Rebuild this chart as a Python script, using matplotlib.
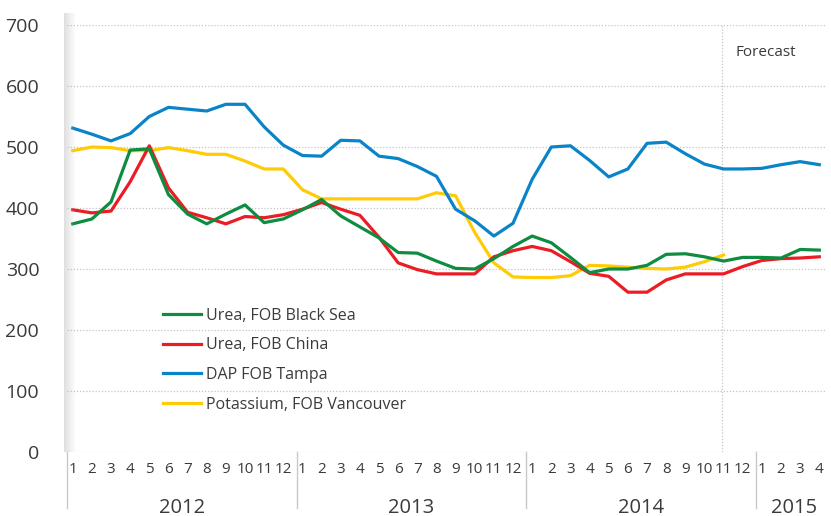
import matplotlib.pyplot as plt
import matplotlib.transforms as mtransforms
import numpy as np

# monthly prices, USD/t, Jan 2012 - Apr 2015
years = ['2012', '2013', '2014', '2015']
months_per_year = [12, 12, 12, 4]
month_labels = [str(m) for n in months_per_year for m in range(1, n + 1)]

urea_black_sea = [374, 382, 410, 495, 497, 422, 390, 374, 390, 405,
                  376, 382, 397, 414, 387, 369, 351, 327, 326, 313,
                  301, 300, 317, 337, 354, 343, 319, 294, 300, 300,
                  306, 324, 325, 320, 313, 319, 319, 318, 332, 331]
urea_china = [397, 392, 395, 443, 502, 433, 393, 384, 374, 386,
              384, 389, 398, 409, 398, 388, 352, 310, 299, 292,
              292, 292, 320, 330, 337, 330, 312, 293, 288, 262,
              262, 282, 292, 292, 292, 304, 314, 317, 318, 320]
dap_tampa = [531, 521, 510, 522, 550, 565, 562, 559, 570, 570,
             533, 503, 486, 485, 511, 510, 485, 481, 468, 452,
             398, 379, 354, 375, 447, 500, 502, 478, 451, 464,
             506, 508, 489, 472, 464, 464, 465, 471, 476, 471]
potassium = [494, 500, 499, 494, 494, 499, 494, 488, 488, 477,
             464, 464, 430, 415, 415, 415, 415, 415, 415, 425,
             420, 360, 310, 287, 286, 286, 289, 306, 305, 303,
             301, 300, 303, 312, 323]
forecast_start = 34  # Nov 2014

plt.rcParams['font.family'] = ['Open Sans', 'DejaVu Sans']
text_color = '#3a3a3a'

fig = plt.figure(figsize=(8.31, 5.16), dpi=100)
ax = fig.add_axes([67 / 831, 1 - 452 / 516, 759 / 831, 427 / 516])

x = np.arange(len(month_labels))
ax.plot(x, urea_black_sea, color='#0e8c3f', lw=2.3, label='Urea, FOB Black Sea', zorder=4)
ax.plot(x, urea_china, color='#ec1c24', lw=2.3, label='Urea, FOB China', zorder=3)
ax.plot(x, dap_tampa, color='#0a84c9', lw=2.3, label='DAP FOB Tampa', zorder=3)
ax.plot(np.arange(len(potassium)), potassium, color='#ffcb05', lw=2.3,
        label='Potassium, FOB Vancouver', zorder=2)

ax.set_ylim(0, 700)
ax.set_xlim(-0.3, len(month_labels) - 0.65)
ax.set_yticks(range(0, 701, 100))
ax.yaxis.grid(True, color='#c4c4c4', lw=0.9, ls=(0, (1, 1.5)))
ax.set_axisbelow(True)
for s in ['top', 'right', 'bottom', 'left']:
    ax.spines[s].set_visible(False)
ax.tick_params(axis='y', length=0, pad=20, labelsize=14, labelcolor=text_color)
ax.set_xticks(x)
ax.set_xticklabels(month_labels)
ax.tick_params(axis='x', length=0, pad=7, labelsize=11, labelcolor=text_color)

# forecast marker
ax.axvline(forecast_start - 0.1, color='#c4c4c4', lw=0.9, ls=(0, (1, 1.5)), zorder=1)
ax.text(forecast_start + 0.6, 655, 'Forecast', fontsize=11, color=text_color,
        va='center', ha='left')

# shaded left edge of the plot area
grad = np.linspace(0.45, 0, 50).reshape(1, -1)
gax = fig.add_axes([64 / 831, 1 - 452 / 516, 12 / 831, 439 / 516])
gax.imshow(np.dstack([np.full((1, 50, 3), 0.72), grad[..., None]]), aspect='auto',
           extent=(0, 1, 0, 1))
gax.axis('off')

# year brackets under the month labels
trans = mtransforms.blended_transform_factory(ax.transData, ax.transAxes)
edges = np.concatenate([[0], np.cumsum(months_per_year)]) - 0.3
for e in edges:
    ax.plot([e, e], [0, -0.13], color='#c8c8c8', lw=1, transform=trans, clip_on=False)
for i, yr in enumerate(years):
    ax.text((edges[i] + edges[i + 1]) / 2, -0.13, yr, transform=trans,
            ha='center', va='center', fontsize=14.5, color=text_color)

leg = ax.legend(loc='upper left', bbox_to_anchor=(0.107, 0.372), frameon=False,
                fontsize=11.5, handlelength=2.4, labelspacing=0.86, handletextpad=0.3)
for t in leg.get_texts():
    t.set_color(text_color)

fig.savefig('out.png', dpi=100)
